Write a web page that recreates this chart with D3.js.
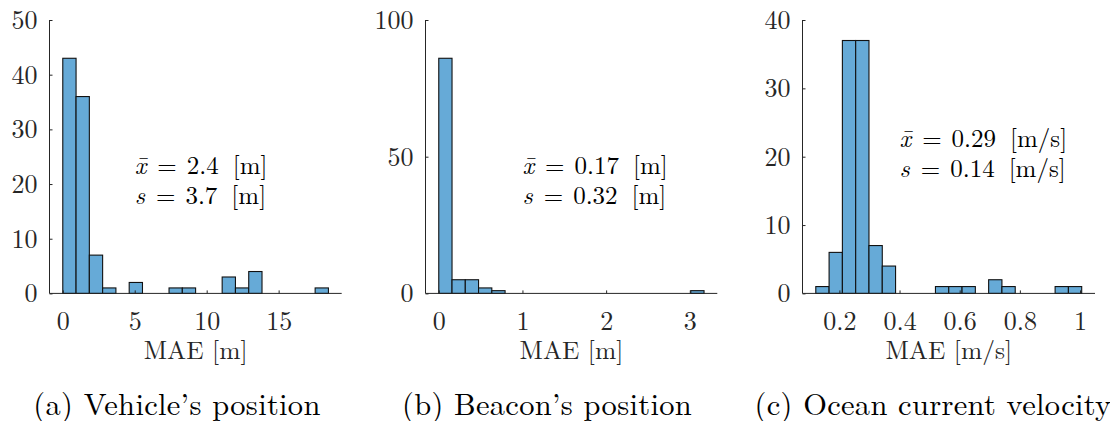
<!DOCTYPE html>
<html>
<head>
<meta charset="utf-8">
<script src="https://cdn.jsdelivr.net/npm/d3@7"></script>
<style>
  body { margin: 0; background: #fff; }
</style>
</head>
<body>
<div id="chart"></div>
<script>
// histogram counts, 20 bins each
const vehicleCounts = [43, 36, 7, 1, 0, 2, 0, 0, 1, 1, 0, 0, 3, 1, 4, 0, 0, 0, 0, 1];
const beaconCounts  = [86, 5, 5, 2, 1, 0, 0, 0, 0, 0, 0, 0, 0, 0, 0, 0, 0, 0, 0, 1];
const currentCounts = [1, 6, 37, 37, 7, 4, 0, 0, 0, 1, 1, 1, 0, 2, 1, 0, 0, 0, 1, 1];
// first bin edge and bin width
const vehicleBins = [0, 0.923];
const beaconBins  = [0, 0.1585];
const currentBins = [0.1216, 0.0442];
const vehicleXTicks = [0, 5, 10, 15];
const beaconXTicks  = [0, 1, 2, 3];
const currentXTicks = [0.2, 0.4, 0.6, 0.8, 1];
const vehicleYTicks = [0, 10, 20, 30, 40, 50];
const beaconYTicks  = [0, 50, 100];
const currentYTicks = [0, 10, 20, 30, 40];
const xLabels  = ["MAE [m]", "MAE [m]", "MAE [m/s]"];
const captions = ["(a) Vehicle\u2019s position", "(b) Beacon\u2019s position", "(c) Ocean current velocity"];
const means = ["2.4", "0.17", "0.29"];
const stds  = ["3.7", "0.32", "0.14"];
const units = ["[m]", "[m]", "[m/s]"];
const notePos = [[5, 20], [1, 40], [0.4, 20]];

const W = 1110, H = 421;
const yTop = 20, yBottom = 293.4;
const FONT = '"Latin Modern Roman", "Liberation Serif", serif';
const panels = [
  { counts: vehicleCounts, bins: vehicleBins, xt: vehicleXTicks, yt: vehicleYTicks, left: 49.5, right: 341.7 },
  { counts: beaconCounts,  bins: beaconBins,  xt: beaconXTicks,  yt: beaconYTicks,  left: 425.5, right: 717.3 },
  { counts: currentCounts, bins: currentBins, xt: currentXTicks, yt: currentYTicks, left: 802.5, right: 1095 }
];
const axisCol = "#262626";

const svg = d3.select("#chart").append("svg")
  .attr("width", W).attr("height", H);

// "x̄ = 2.4 [m]" style line, with math-like spacing
function noteLine(g, x0, y0, sym, val, unit) {
  const t = g.append("text").attr("x", x0).attr("y", y0).attr("font-size", 25).attr("fill", "#000");
  t.append("tspan").attr("font-style", "italic").text(sym);
  t.append("tspan").attr("dx", 11).text("=");
  t.append("tspan").attr("dx", 10).text(val);
  t.append("tspan").attr("dx", 14).text(unit);
}

panels.forEach((p, k) => {
  const [b0, bw] = p.bins;
  const n = p.counts.length;
  const x = d3.scaleLinear().domain([b0 - bw, b0 + (n + 1) * bw]).range([p.left, p.right]);
  const y = d3.scaleLinear().domain([0, d3.max(p.yt)]).range([yBottom, yTop]);
  const g = svg.append("g");

  g.selectAll("rect.bar")
    .data(p.counts)
    .enter().append("rect")
    .attr("class", "bar")
    .attr("x", (d, i) => x(b0 + i * bw))
    .attr("width", (d, i) => x(b0 + (i + 1) * bw) - x(b0 + i * bw))
    .attr("y", d => y(d))
    .attr("height", d => y(0) - y(d))
    .attr("fill", "#66aad7")
    .attr("stroke", d => d > 0 ? "#111" : "none")
    .attr("stroke-width", 1.1);

  // x axis, ticks pointing inward
  const xa = g.append("g").attr("transform", `translate(0,${yBottom})`)
    .call(d3.axisBottom(x).tickValues(p.xt).tickSize(-3).tickPadding(0).tickFormat(d3.format("~g")));
  xa.select(".domain").attr("stroke", axisCol).attr("d", `M${p.left},0H${p.right}`);
  xa.selectAll(".tick line").attr("stroke", axisCol);
  xa.selectAll(".tick text").attr("y", 37).attr("dy", null)
    .attr("fill", axisCol).attr("font-size", 26);

  const ya = g.append("g").attr("transform", `translate(${p.left},0)`)
    .call(d3.axisLeft(y).tickValues(p.yt).tickSize(-3).tickPadding(0));
  ya.select(".domain").attr("stroke", axisCol).attr("d", `M0,${yBottom}V${yTop}`);
  ya.selectAll(".tick line").attr("stroke", axisCol);
  ya.selectAll(".tick text").attr("x", -12).attr("dy", "0.33em")
    .attr("fill", axisCol).attr("font-size", 26);

  g.append("text")
    .attr("x", (p.left + p.right) / 2).attr("y", 359)
    .attr("text-anchor", "middle").attr("fill", axisCol).attr("font-size", 25.5)
    .text(xLabels[k]);

  // mean / std note
  const nx = x(notePos[k][0]), ny = y(notePos[k][1]);
  noteLine(g, nx, ny - 10, "x\u0304", means[k], units[k]);
  noteLine(g, nx, ny + 20, "s", stds[k], units[k]);
});

const capX = [177, 547, 933];
captions.forEach((c, k) => {
  svg.append("text")
    .attr("x", capX[k]).attr("y", 415)
    .attr("text-anchor", "middle").attr("font-size", 30.5).attr("fill", "#000")
    .attr("letter-spacing", 0.3)
    .text(c);
});

svg.selectAll("text").style("font-family", FONT);
</script>
</body>
</html>
